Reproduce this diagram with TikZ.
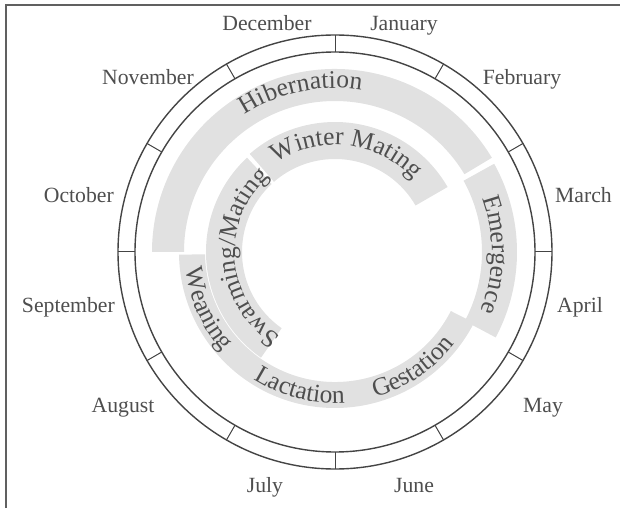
\documentclass[tikz,border=0pt]{standalone}
\usepackage{fontspec}
\setmainfont{Liberation Serif}
\usetikzlibrary{decorations.text}
\definecolor{linegray}{RGB}{68,68,68}
\definecolor{textgray}{RGB}{78,78,78}
\definecolor{bandgray}{RGB}{225,225,225}
\newcommand{\monthfont}{\fontsize{21.7}{24}\selectfont}
\newcommand{\bandfont}{\fontsize{25.5}{27}\selectfont}
\newcommand{\bandarc}[4]{\fill[band] (#1:#4) arc[start angle=#1,end angle=#2,radius=#4] -- (#2:#3) arc[start angle=#2,end angle=#1,radius=#3] -- cycle;}
\newcommand{\arctext}[4]{\path[decorate,decoration={text along path,text align=center,text={|\bandfont\color{textgray}|#4}}] (#1:#3) arc[start angle=#1,end angle=#2,radius=#3];}
\begin{document}
\begin{tikzpicture}[x=1pt,y=1pt,
  ringline/.style={draw=linegray,line width=1.4pt},
  tickline/.style={draw=linegray,line width=1pt},
  band/.style={fill=bandgray,draw=none},
  monthlabel/.style={text=textgray,font=\monthfont,inner sep=0pt},
  framerule/.style={draw=linegray!85,line width=2pt}]
\useasboundingbox (-335,-256) rectangle (285,252);
% frame (top and left edges)
\coordinate (ftl) at (-329,247);
\coordinate (ftr) at (285,247);
\coordinate (fbl) at (-329,-256);
\draw[framerule] (fbl) -- (ftl) -- (ftr);
% bands
\bandarc{31}{180}{151}{183}
\bandarc{-28}{29}{147}{182}
\bandarc{30}{131}{93}{130}
\bandarc{133}{235}{93}{129}
\bandarc{181}{333}{130}{156}
% month ring
\node[circle,ringline,minimum size=434pt,inner sep=0pt] (outerring) at (0,0) {};
\node[circle,ringline,minimum size=400pt,inner sep=0pt] (innerring) at (0,0) {};
\foreach \a in {0,30,...,330} \draw[tickline] (\a:200) -- (\a:217);
% month labels
\node[monthlabel,anchor=base] (dec) at (-68,221) {December};
\node[monthlabel,anchor=base] (jan) at (69,221) {January};
\node[monthlabel,anchor=base] (nov) at (-187,167) {November};
\node[monthlabel,anchor=base] (feb) at (187,167) {February};
\node[monthlabel,anchor=base east] (oct) at (-221,49) {October};
\node[monthlabel,anchor=base west] (mar) at (220,49) {March};
\node[monthlabel,anchor=base east] (sep) at (-220,-60) {September};
\node[monthlabel,anchor=base west] (apr) at (222,-60) {April};
\node[monthlabel,anchor=base] (aug) at (-212,-160) {August};
\node[monthlabel,anchor=base] (may) at (208,-160) {May};
\node[monthlabel,anchor=base] (jul) at (-70,-240) {July};
\node[monthlabel,anchor=base] (jun) at (79,-240) {June};
% band labels
\arctext{144}{60}{164}{Hibernation}
\arctext{140}{26}{107}{Winter Mating}
\arctext{245}{123}{100}{Swarming/Mating}
\arctext{26}{-28}{157}{Emergence}
\arctext{180}{228}{150}{Weaning}
\arctext{231}{280}{151}{Lactation}
\arctext{280}{328}{151}{Gestation}
\end{tikzpicture}
\end{document}
